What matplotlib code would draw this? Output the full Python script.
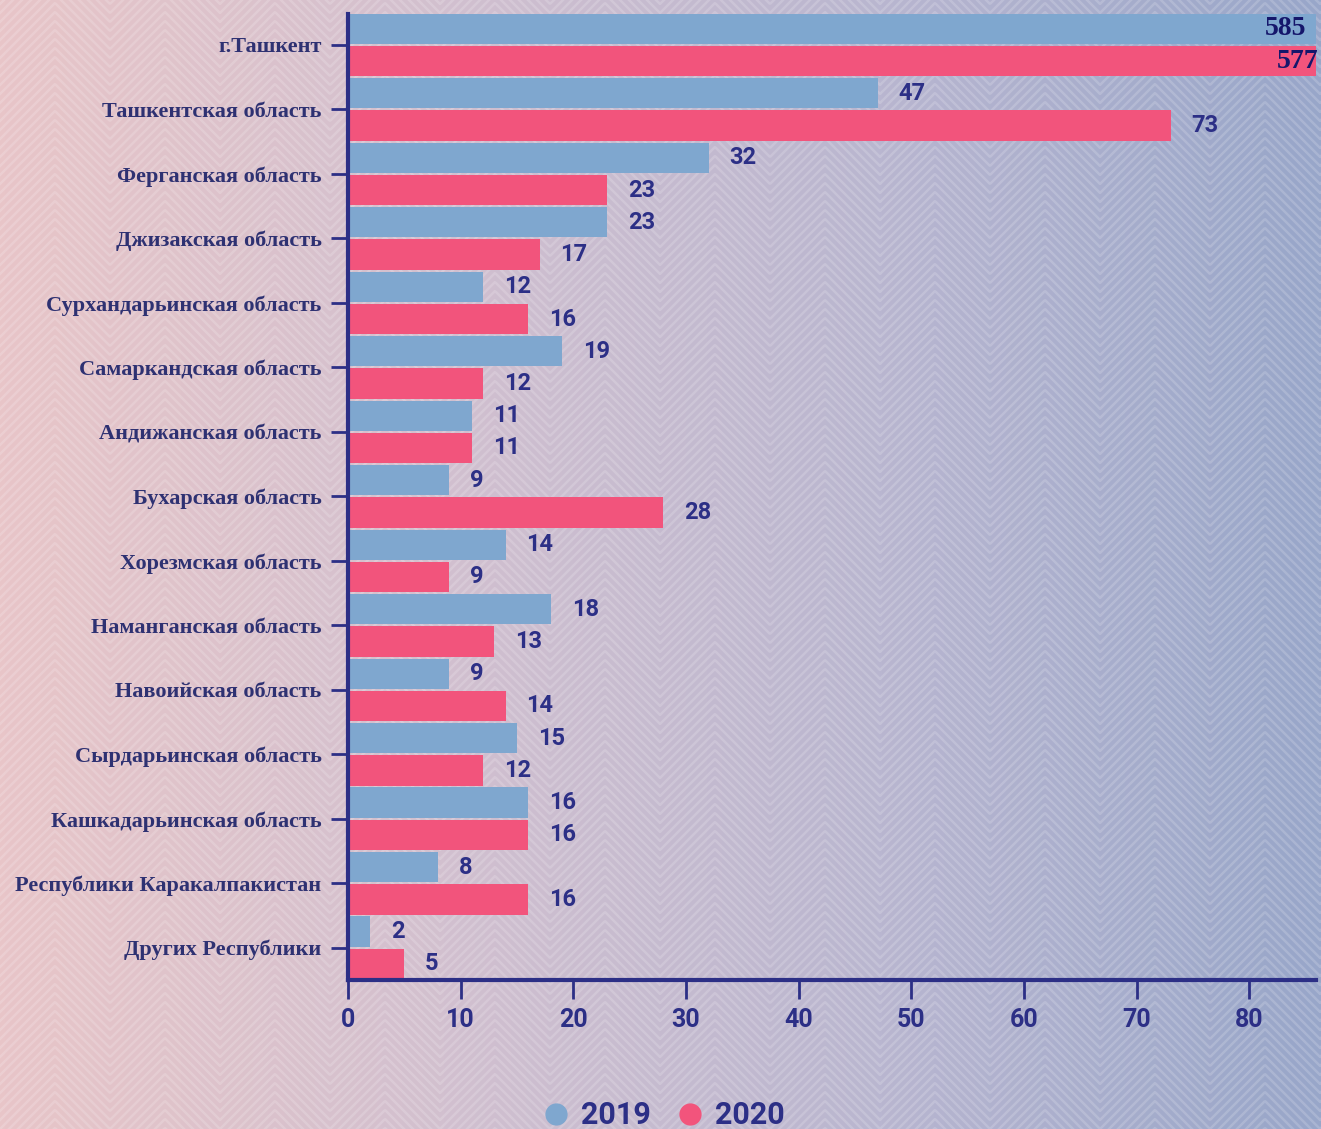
import numpy as np
import matplotlib.pyplot as plt
from matplotlib.colors import LinearSegmentedColormap
from matplotlib.lines import Line2D

regions = ['г.Ташкент', 'Ташкентская область', 'Ферганская область',
           'Джизакская область', 'Сурхандарьинская область', 'Самаркандская область',
           'Андижанская область', 'Бухарская область', 'Хорезмская область',
           'Наманганская область', 'Навоийская область', 'Сырдарьинская область',
           'Кашкадарьинская область', 'Республики Каракалпакистан', 'Других Республики']
vals_2019 = [585, 47, 32, 23, 12, 19, 11, 9, 14, 18, 9, 15, 16, 8, 2]
vals_2020 = [577, 73, 23, 17, 16, 12, 11, 28, 9, 13, 14, 12, 16, 16, 5]
xticks = [0, 10, 20, 30, 40, 50, 60, 70, 80]

navy = '#2c2f86'
blue = '#7fa7cf'
red = '#f2547c'

fig = plt.figure(figsize=(13.21, 11.29), dpi=100)

# background gradient + chevron pattern
bg = fig.add_axes([0, 0, 1, 1], zorder=-10)
cmap = LinearSegmentedColormap.from_list('bg', ['#e8c5c8', '#d2c0cf', '#b9b6d0', '#98a6c9'])
bg.imshow(np.linspace(0, 1, 256)[None, :], aspect='auto', cmap=cmap, extent=[0, 1321, 0, 1129])
xs = np.linspace(0, 1321, 1400)
period = 110.0
tri = np.abs(((xs / period) % 1.0) - 0.5) * period
for base in np.arange(-80, 1200, 9):
    bg.plot(xs, base - tri, color='white', alpha=0.17, lw=1.8)
bg.set_xlim(0, 1321)
bg.set_ylim(0, 1129)
bg.axis('off')

ax = fig.add_axes([0.2634, 0.132, 0.7328, 0.8556])
ax.patch.set_alpha(0)

y = np.arange(len(regions))
ax.barh(y - 0.25, vals_2019, height=0.47, color=blue)
ax.barh(y + 0.25, vals_2020, height=0.47, color=red)

ax.set_xlim(0, 85.9)
ax.set_ylim(14.5, -0.48)

for i, (a, b) in enumerate(zip(vals_2019, vals_2020)):
    if i == 0:
        ax.text(85.0, i - 0.25, str(a), ha='right', va='center', fontsize=20,
                family='Liberation Serif', fontweight='bold', color='#15166b')
        ax.text(86.1, i + 0.25, str(b), ha='right', va='center', fontsize=20,
                family='Liberation Serif', fontweight='bold', color='#15166b', clip_on=False)
        continue
    ax.annotate(str(a), (a, i - 0.25), xytext=(15, 0), textcoords='offset points',
                ha='left', va='center', fontsize=17, fontweight='bold', color=navy,
                family='Roboto')
    ax.annotate(str(b), (b, i + 0.25), xytext=(15, 0), textcoords='offset points',
                ha='left', va='center', fontsize=17, fontweight='bold', color=navy,
                family='Roboto')

ax.set_yticks(y)
ax.set_yticklabels(regions, family='Liberation Serif', fontweight='bold', fontsize=16, color='#2e3172')
ax.set_xticks(xticks)
ax.set_xticklabels([str(t) for t in xticks], family='Roboto', fontweight='bold', fontsize=18, color=navy)
ax.tick_params(axis='y', length=12, width=2, color=navy, pad=7)
ax.tick_params(axis='x', length=14, width=2, color=navy, pad=6)
for s in ['top', 'right']:
    ax.spines[s].set_visible(False)
for s in ['left', 'bottom']:
    ax.spines[s].set_color(navy)
    ax.spines[s].set_linewidth(3)

handles = [Line2D([], [], marker='o', ls='none', markersize=15, color=blue),
           Line2D([], [], marker='o', ls='none', markersize=15, color=red)]
fig.legend(handles, ['2019', '2020'], loc='center', bbox_to_anchor=(0.496, 0.012),
           ncol=2, frameon=False, handletextpad=-0.2, columnspacing=0.3, borderpad=0,
           prop={'family': 'Roboto', 'weight': 'bold', 'size': 22}, labelcolor=navy)

fig.savefig('out.png', dpi=100)
